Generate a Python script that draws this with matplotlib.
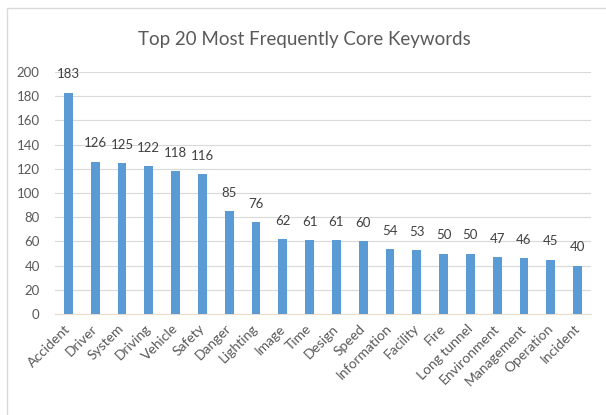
import matplotlib
matplotlib.use('Agg')
import matplotlib.pyplot as plt
from matplotlib.patches import Rectangle

keywords = ['Accident', 'Driver', 'System', 'Driving', 'Vehicle', 'Safety', 'Danger',
            'Lighting', 'Image', 'Time', 'Design', 'Speed', 'Information', 'Facility',
            'Fire', 'Long tunnel', 'Environment', 'Management', 'Operation', 'Incident']
counts = [183, 126, 125, 122, 118, 116, 85, 76, 62, 61, 61, 60, 54, 53, 50, 50, 47, 46, 45, 40]
y_ticks = list(range(0, 201, 20))

bar_color = '#5B9BD5'
text_color = '#595959'
grid_color = '#D9D9D9'
plt.rcParams['font.family'] = ['Lato', 'DejaVu Sans']

fig = plt.figure(figsize=(6.06, 4.15), dpi=100)
ax = fig.add_axes([0.0908, 0.2434, 0.8845, 0.583])

# light chart frame, runs off the right and bottom edges like the cropped export
frame = Rectangle((7 / 606, -0.05), 1.0, 1 - 8 / 415 + 0.05, transform=fig.transFigure,
                  facecolor='none', edgecolor='#D9D9D9', linewidth=1)
fig.patches.append(frame)

x = range(len(keywords))
ax.bar(x, counts, width=0.33, color=bar_color, zorder=3)
for xi, v in zip(x, counts):
    ax.text(xi, v + 15, str(v), ha='center', va='center', fontsize=9.5, color='#404040')

ax.set_xlim(-0.5, len(keywords) - 0.5)
ax.set_ylim(0, 200)
ax.set_yticks(y_ticks)
ax.yaxis.grid(True, color=grid_color, linewidth=0.8, zorder=0)
ax.set_xticks(list(x))
ax.set_xticklabels(keywords, rotation=45, ha='right', va='center', rotation_mode='anchor',
                   fontsize=10, color=text_color)
ax.tick_params(axis='y', length=0, labelsize=9.5, labelcolor=text_color, pad=11)
ax.tick_params(axis='x', length=0, pad=9)
for s in ['top', 'right', 'left']:
    ax.spines[s].set_visible(False)
ax.spines['bottom'].set_color('#EADBCB')
ax.spines['bottom'].set_linewidth(0.8)

fig.text(0.503, 0.906, 'Top 20 Most Frequently Core Keywords', ha='center', va='center',
         fontsize=13.5, color=text_color)

fig.savefig('out.png', dpi=100)
